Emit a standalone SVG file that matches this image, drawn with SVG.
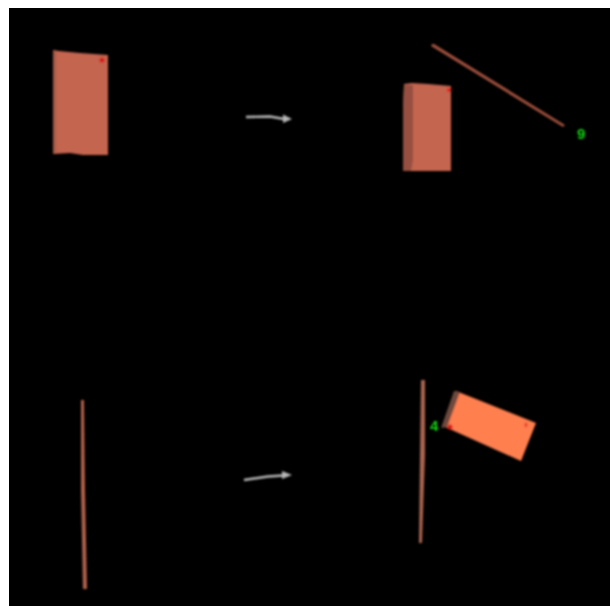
<svg xmlns="http://www.w3.org/2000/svg" width="613" height="606" viewBox="0 0 613 606">
<style>
.label{font-family:"Liberation Sans",sans-serif;font-size:15px;font-weight:700;fill:#10d810}
.arrow{fill:none;stroke:#b8b8b8;stroke-width:2.4}
.head{fill:#b8b8b8;stroke:none}
</style>
<defs>
<filter id="soft" x="-20%" y="-20%" width="140%" height="140%"><feGaussianBlur stdDeviation="0.8"/></filter>
<filter id="softline" filterUnits="userSpaceOnUse" x="0" y="0" width="613" height="606"><feGaussianBlur stdDeviation="0.8"/></filter>
</defs>
<rect width="613" height="606" fill="#fff"/>
<rect x="9" y="8" width="601" height="598" fill="#000"/>
<g id="box-a" filter="url(#soft)">
<polygon points="53,50 59,51 80,53 108,55 108,155 83,155 70,153 53,154" fill="#c4654f"/>
<polygon points="53,50 56,51 56,153 53,154" fill="#a85a47"/>
<circle cx="102" cy="60" r="2.6" fill="#d81818"/>
</g>
<g id="box-b" filter="url(#soft)">
<polygon points="404,84 412,83 428,84 451,86 451,171 417,171 403,171 403,108" fill="#c4654f"/>
<polygon points="404,85 413,85 413,160 411,171 403,171 403,108" fill="#96503f"/>
<circle cx="449" cy="90" r="2.2" fill="#e02020"/>
</g>
<g id="plate-a" filter="url(#soft)">
<polygon points="432,44 434,44 565,125 563,127 431,46" fill="#a0503c"/>
</g>
<g id="label-9" filter="url(#soft)"><text class="label" x="577" y="139">9</text></g>
<g id="plate-b" filter="url(#soft)">
<polygon points="81,400 84,400 85,490 87,589 83,589 81,490" fill="#b0604a"/>
</g>
<g id="plate-c" filter="url(#soft)">
<polygon points="421,380 425,380 425,455 422,543 419,543 420,455" fill="#a9634f"/>
</g>
<g id="label-4" filter="url(#soft)"><text class="label" x="430" y="431">4</text></g>
<g id="box-c" filter="url(#soft)">
<polygon points="443,426 456,391 536,423 521,461" fill="#ff7f50"/>
<polygon points="441,428 454,391 460,392 447,427" fill="#6e4a3c"/>
<circle cx="450" cy="427" r="2.6" fill="#d81818"/>
<ellipse cx="526" cy="425" rx="1.5" ry="2.4" fill="#e8402a"/>
</g>
<g id="connectors" filter="url(#softline)">
<path class="arrow" d="M246,117 L270,116.500 L284,119"/>
<polygon class="head" points="283,114.500 292,119 283,123"/>
<path class="arrow" d="M244,480 L268,476.500 L283,475.500"/>
<polygon class="head" points="282,471 292,475 282,479"/>
</g>
</svg>
